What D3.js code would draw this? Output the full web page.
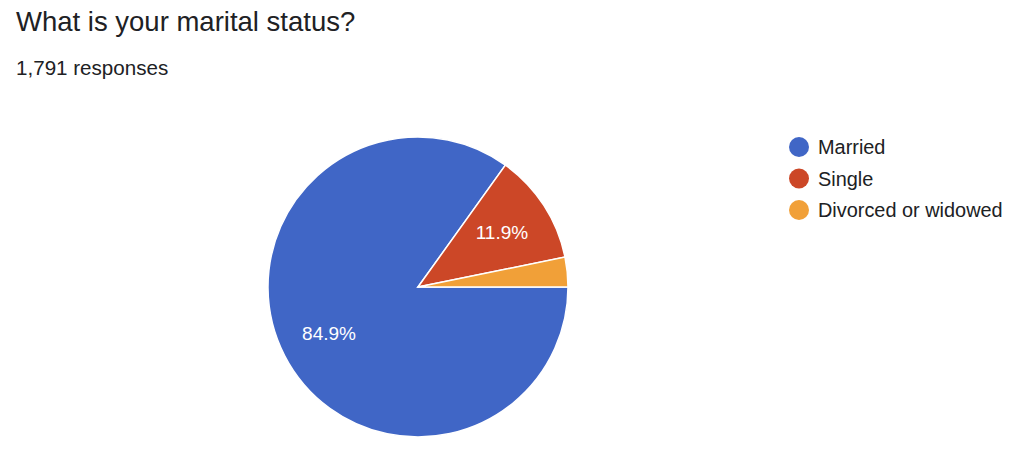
<!DOCTYPE html>
<html>
<head>
<meta charset="utf-8">
<script src="https://cdn.jsdelivr.net/npm/d3@7"></script>
<style>
  body { margin: 0; background: #fff; }
  text { font-family: "Liberation Sans", Arial, sans-serif; }
</style>
</head>
<body>
<div id="chart"></div>
<script>
var categories = ["Married", "Single", "Divorced or widowed"];
var shares = [84.9, 11.9, 3.2];
var colors = ["#4066c6", "#cc4727", "#f1a038"];

var width = 1024, height = 451;
var cx = 418, cy = 287, radius = 150;

var svg = d3.select("#chart").append("svg")
  .attr("width", width)
  .attr("height", height);

// title + count
svg.append("text")
  .attr("x", 16)
  .attr("y", 31)
  .attr("fill", "#202124")
  .style("font-size", "27.5px")
  .text("What is your marital status?");

svg.append("text")
  .attr("x", 16)
  .attr("y", 75)
  .attr("fill", "#202124")
  .style("font-size", "20.6px")
  .text("1,791 responses");

var data = categories.map(function(c, i) {
  return { name: c, value: shares[i], color: colors[i] };
});

// start at 3 o'clock and go clockwise
var pie = d3.pie()
  .sort(null)
  .value(function(d) { return d.value; })
  .startAngle(Math.PI / 2)
  .endAngle(Math.PI / 2 + 2 * Math.PI);

var arc = d3.arc().innerRadius(0).outerRadius(radius);
var labelArc = d3.arc().innerRadius(radius * 2 / 3).outerRadius(radius * 2 / 3);

var g = svg.append("g")
  .attr("transform", "translate(" + cx + "," + cy + ")");

var arcs = pie(data);

g.selectAll("path")
  .data(arcs).enter()
  .append("path")
  .attr("d", arc)
  .attr("fill", function(d) { return d.data.color; })
  .attr("stroke", "#fff")
  .attr("stroke-width", 1.5);

g.selectAll(".lbl")
  .data(arcs.filter(function(d) { return d.data.value > 5; }))
  .enter()
  .append("text")
  .attr("class", "lbl")
  .attr("transform", function(d) { return "translate(" + labelArc.centroid(d) + ")"; })
  .attr("text-anchor", "middle")
  .attr("dy", "0.36em")
  .attr("fill", "#fff")
  .style("font-size", "19px")
  .text(function(d) { return d.data.value.toFixed(1) + "%"; });

// legend
var legend = svg.append("g")
  .attr("transform", "translate(799,147)");

var item = legend.selectAll("g")
  .data(data).enter()
  .append("g")
  .attr("transform", function(d, i) { return "translate(0," + (i * 31.5) + ")"; });

item.append("circle")
  .attr("r", 10)
  .attr("fill", function(d) { return d.color; });

item.append("text")
  .attr("x", 19)
  .attr("dy", "0.36em")
  .attr("fill", "#202124")
  .style("font-size", "19.9px")
  .text(function(d) { return d.name; });
</script>
</body>
</html>
